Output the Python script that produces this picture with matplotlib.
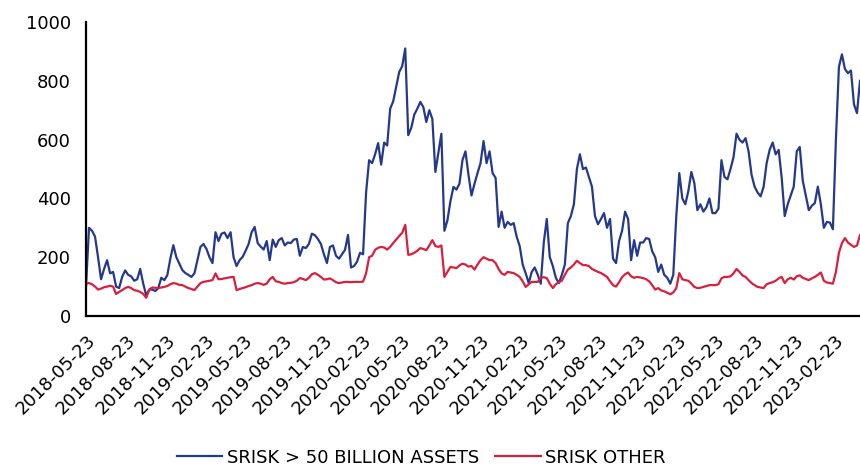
import matplotlib.pyplot as plt
import matplotlib.dates as mdates
import pandas as pd

# weekly readings, first week starts 2018-05-21
start = "2018-05-21"

srisk_big = [
    100, 300, 290, 270, 200, 125, 160, 190, 145, 150, 100, 95, 133, 155, 140, 135, 120, 125, 160, 110,
    70, 90, 90, 85, 95, 130, 122, 139, 195, 241, 200, 178, 156, 146, 140, 133, 145, 190, 235, 245,
    228, 200, 180, 285, 255, 280, 284, 265, 285, 200, 170, 190, 201, 222, 245, 285, 303, 248, 236, 226,
    255, 190, 260, 235, 258, 265, 240, 250, 248, 260, 262, 205, 235, 231, 245, 280, 275, 262, 245, 210,
    180, 235, 240, 205, 195, 210, 225, 276, 165, 170, 185, 215, 210, 420, 530, 520, 550, 588, 515, 590,
    580, 705, 730, 780, 830, 850, 910, 615, 640, 685, 705, 728, 711, 660, 700, 670, 490, 554, 620, 290,
    325, 390, 439, 430, 450, 530, 560, 480, 410, 450, 486, 520, 595, 520, 560, 486, 470, 303, 355, 300,
    320, 310, 316, 270, 238, 175, 145, 112, 150, 165, 140, 110, 250, 330, 200, 170, 130, 112, 140, 175,
    316, 340, 380, 500, 550, 500, 505, 473, 440, 340, 312, 330, 350, 300, 330, 195, 180, 255, 290, 355,
    330, 190, 258, 205, 250, 250, 265, 262, 220, 200, 150, 175, 140, 130, 110, 140, 340, 486, 400, 380,
    425, 490, 452, 360, 380, 355, 370, 400, 350, 350, 365, 530, 473, 465, 500, 540, 620, 599, 590, 605,
    560, 480, 440, 420, 407, 440, 520, 565, 590, 550, 565, 470, 340, 380, 410, 440, 560, 575, 460, 410,
    360, 375, 384, 440, 380, 300, 320, 318, 295, 600, 847, 890, 840, 826, 835, 720, 690, 800,
]

srisk_other = [
    110, 112, 108, 100, 90, 93, 98, 100, 103, 100, 75, 82, 88, 95, 99, 95, 88, 86, 82, 75,
    62, 90, 97, 96, 95, 97, 99, 102, 108, 112, 110, 106, 105, 100, 95, 92, 88, 100, 112, 116,
    118, 120, 122, 145, 125, 126, 128, 130, 132, 133, 88, 92, 95, 98, 102, 105, 110, 112, 110, 106,
    110, 125, 133, 118, 116, 112, 110, 112, 113, 115, 120, 129, 126, 122, 130, 142, 146, 140, 133, 124,
    125, 128, 122, 115, 112, 114, 116, 116, 115, 116, 116, 116, 117, 145, 200, 205, 225, 232, 235, 233,
    226, 235, 248, 260, 272, 283, 310, 208, 210, 215, 222, 231, 228, 224, 240, 258, 238, 235, 240, 133,
    150, 167, 165, 163, 172, 178, 175, 168, 170, 158, 175, 190, 200, 195, 190, 190, 180, 160, 145, 140,
    150, 148, 146, 140, 133, 118, 99, 108, 116, 116, 116, 130, 132, 129, 110, 95, 108, 115, 120, 140,
    158, 165, 175, 188, 180, 173, 173, 170, 160, 155, 150, 146, 140, 133, 118, 105, 100, 115, 132, 142,
    148, 135, 130, 133, 131, 129, 125, 118, 105, 90, 95, 87, 84, 79, 74, 80, 95, 146, 125, 122,
    120, 110, 99, 95, 96, 99, 102, 105, 105, 105, 108, 128, 133, 133, 135, 145, 160, 150, 138, 133,
    122, 112, 105, 99, 97, 95, 108, 112, 115, 120, 128, 133, 112, 125, 130, 124, 135, 138, 130, 126,
    122, 128, 133, 140, 148, 120, 114, 112, 110, 150, 215, 248, 265, 250, 242, 235, 240, 275,
]

# quarterly ticks on the 23rd
tick_dates = pd.date_range("2018-05-01", "2023-02-01", freq="3MS") + pd.Timedelta(days=22)

dates = pd.date_range(start, periods=len(srisk_big), freq="7D")

plt.rcParams['font.family'] = ['DejaVu Sans']

fig = plt.figure(figsize=(8.6, 4.65), dpi=100)
ax = fig.add_axes([0.1, 0.3204, 0.9, 0.6323])

ax.plot(dates, srisk_big, color='#24398A', lw=1.6, label='SRISK > 50 BILLION ASSETS')
ax.plot(dates, srisk_other, color='#D7203D', lw=1.6, label='SRISK OTHER')

ax.set_xlim(dates[0], dates[-1])
ax.set_ylim(0, 1000)
ax.set_yticks(range(0, 1001, 200))
ax.set_xticks(tick_dates)
ax.xaxis.set_major_formatter(mdates.DateFormatter('%Y-%m-%d'))
for lab in ax.get_xticklabels():
    lab.set_rotation(45)
    lab.set_ha('right')
    lab.set_rotation_mode('anchor')

ax.tick_params(axis='both', length=0, labelsize=13)
ax.tick_params(axis='y', pad=11)
ax.tick_params(axis='x', pad=11)
for s in ['top', 'right']:
    ax.spines[s].set_visible(False)
for s in ['left', 'bottom']:
    ax.spines[s].set_linewidth(1.6)

fig.legend(loc='center', bbox_to_anchor=(0.49, 0.016), ncol=2, frameon=False,
           fontsize=13, handlelength=2.5, columnspacing=0.9, handletextpad=0.25,
           borderpad=0.1)

fig.savefig('out.png', dpi=100)
